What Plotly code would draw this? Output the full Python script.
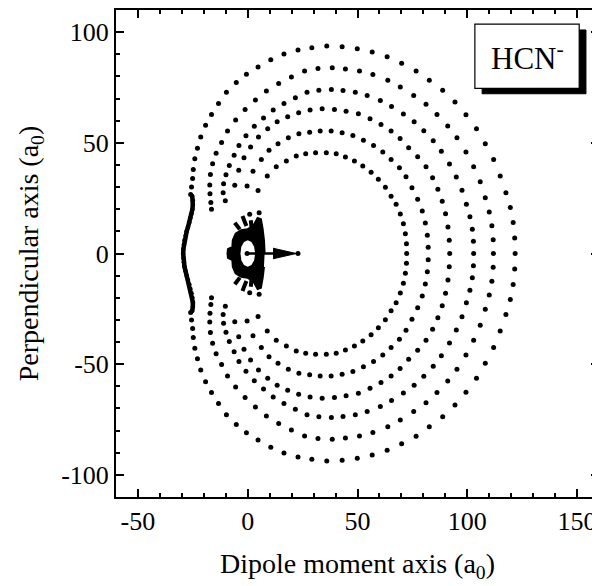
import plotly.graph_objects as go

# ---------------- data (upper halves, y >= 0; figure is symmetric about y = 0) -------------
arc1_x = [-26.0, -25.6, -25.1, -24.8, -24.1, -22.9, -21.4, -19.2, -16.5, -13.3, -9.7, -5.2, -0.6, 4.7,
          10.5, 16.5, 22.9, 29.2, 36.0, 43.0, 49.9, 56.7, 63.5, 70.1, 76.7, 82.7, 88.8, 94.4, 99.4,
          104.2, 108.2, 112.0, 115.0, 117.6, 119.6, 120.9, 121.6, 121.8]
arc1_y = [26.7, 30.0, 33.9, 38.0, 42.8, 47.5, 52.6, 57.9, 62.8, 67.8, 72.8, 77.3, 81.0, 84.3,
          87.5, 90.1, 91.9, 92.9, 93.7, 93.4, 92.5, 91.0, 88.9, 86.0, 82.5, 78.3, 73.7, 68.4, 62.7,
          56.3, 49.6, 42.5, 35.0, 27.5, 20.8, 14.0, 7.0, 0.0]

arc2_x = [-16.5, -16.8, -17.2, -17.3, -17.0, -16.0, -14.4, -11.9, -9.2, -5.5, -1.2, 3.5, 8.5, 14.1,
          19.9, 25.9, 32.0, 38.5, 44.5, 50.9, 57.0, 63.8, 69.5, 75.6, 81.2, 86.2, 91.1, 95.3, 99.4,
          102.9, 105.9, 108.2, 110.0, 111.2, 111.8, 111.9]
arc2_y = [20.0, 23.0, 27.0, 31.0, 35.7, 40.5, 45.3, 50.2, 55.3, 60.3, 65.1, 69.3, 73.4, 76.8,
          79.7, 82.4, 83.6, 83.9, 83.4, 82.4, 80.9, 78.3, 75.2, 71.4, 67.4, 62.8, 57.6, 52.3, 45.8,
          39.2, 32.4, 25.2, 18.8, 12.5, 6.2, 0.0]

arc3_x = [-10.2, -11.2, -11.0, -9.9, -8.4, -6.2, -4.0, -0.8, 3.0, 7.2, 11.6, 16.5, 21.7, 27.0,
          32.4, 38.1, 43.4, 49.0, 54.4, 60.4, 65.5, 70.9, 75.8, 80.2, 84.5, 88.2, 91.9, 95.0, 97.6,
          99.6, 101.2, 102.3, 102.8, 102.9]
arc3_y = [23.8, 27.5, 31.5, 35.6, 39.8, 44.4, 48.8, 53.2, 57.5, 61.2, 64.8, 67.8, 70.4, 72.8,
          73.8, 74.1, 73.6, 72.8, 71.4, 69.1, 66.4, 63.0, 59.5, 55.5, 50.9, 46.2, 40.4, 34.6, 28.6,
          22.3, 16.6, 11.0, 5.5, 0.0]

arc4_x = [-5.9, -4.1, -1.7, 1.3, 4.9, 9.1, 13.4, 18.2, 23.2, 28.4, 33.9, 39.5, 44.8, 50.4, 55.7,
          60.7, 65.3, 69.4, 73.3, 77.4, 81.2, 84.2, 86.6, 88.6, 90.1, 91.2, 91.8, 92.0]
arc4_y = [30.8, 37.6, 43.3, 48.1, 52.6, 56.3, 59.5, 61.8, 63.6, 64.8, 65.4, 65.1, 64.3, 63.1, 60.9,
          58.3, 55.3, 51.9, 47.8, 43.7, 39.2, 34.2, 29.0, 23.6, 18.0, 12.0, 6.0, 0.0]

arc5_x = [-0.3, 2.4, 6.2, 9.7, 13.8, 18.5, 23.3, 28.2, 33.0, 38.0, 43.0, 47.9, 52.7, 57.3, 61.5,
          65.3, 69.1, 72.1, 74.8, 77.4, 79.5, 80.9, 81.8, 82.2]
arc5_y = [30.5, 37.2, 42.5, 46.6, 49.6, 52.3, 54.1, 54.8, 55.3, 55.3, 54.5, 53.3, 51.2, 48.8, 45.8,
          42.5, 38.7, 34.7, 29.7, 24.5, 19.2, 13.8, 8.3, 2.8]

arc6_x = [4.7, 8.9, 13.0, 17.6, 22.1, 26.4, 30.9, 35.8, 40.3, 44.5, 48.6, 52.4, 56.2, 59.5, 62.7,
          65.3, 67.6, 69.5, 70.9, 71.8, 72.3, 72.4]
arc6_y = [28.5, 35.0, 39.2, 41.8, 44.0, 45.1, 45.5, 45.5, 45.1, 43.6, 41.8, 39.5, 36.7, 33.5, 29.9,
          25.9, 22.2, 17.9, 13.4, 8.9, 4.4, 0.0]

# dense left-hand curve
wave_x = [-25.3, -25.0, -25.0, -25.2, -25.6, -26.1, -26.6, -27.2, -27.8, -28.3, -28.8, -29.1, -29.3, -29.4]
wave_y = [26.0, 24.0, 22.0, 20.0, 18.0, 16.0, 14.0, 12.0, 10.0, 8.0, 6.0, 4.0, 2.0, 0.0]

# central blob outline (upper half, from right edge round to left edge)
blob_x = [7.7, 7.4, 6.8, 6.0, 4.5, 2.5, 0.0, -3.0, -5.5, -6.8, -7.0, -9.0, -9.2]
blob_y = [0.0, 6.0, 11.0, 15.5, 16.0, 12.5, 11.0, 10.5, 9.0, 6.0, 3.0, 2.0, 0.0]
hole_x = [3.4, 2.9, 1.7, 0.0, -1.7, -2.9, -3.3]
hole_y = [0.0, 3.0, 5.2, 6.0, 5.2, 3.0, 0.0]
fing_x0 = [-5.9, -2.4, 1.4, 4.7]
fing_y0 = [13.9, 16.9, 15.0, 15.0]
fing_x1 = [-3.6, -0.6, 1.7, 5.3]
fing_y1 = [10.9, 12.4, 12.0, 11.5]
blobdot_x = [0.9, 5.2, -0.3]
blobdot_y = [17.7, 18.4, 0.0]

# dipole arrow
shaft_x = [0.0, 12.0]
shaft_y = [0.0, 0.0]
head_x = [11.5, 22.1, 11.5]
head_y = [2.4, 0.0, -2.4]
tip_x = [22.9]
tip_y = [0.0]

x_ticks = [-50, 0, 50, 100, 150]
y_ticks = [-100, -50, 0, 50, 100]
label_text = "HCN<sup>-</sup>"
x_title = "Dipole moment axis (a<sub>0</sub>)"
y_title = "Perpendicular axis (a<sub>0</sub>)"


def mirror(xs, ys):
    """Full curve from an upper half (symmetric about y=0)."""
    if ys[-1] == 0:
        return xs + xs[-2::-1], ys + [-y for y in ys[-2::-1]]
    return xs + xs[::-1], ys + [-y for y in ys[::-1]]


def mirror_closed(xs, ys):
    return xs + xs[-2:0:-1], ys + [-y for y in ys[-2:0:-1]]


FONT = "Liberation Serif, Times New Roman, serif"
fig = go.Figure()

dot = dict(color="black", size=5)
for ax, ay in [(arc1_x, arc1_y), (arc2_x, arc2_y), (arc3_x, arc3_y),
               (arc4_x, arc4_y), (arc5_x, arc5_y), (arc6_x, arc6_y)]:
    fx, fy = mirror(ax, ay)
    fig.add_trace(go.Scatter(x=fx, y=fy, mode="markers", marker=dot,
                             showlegend=False, hoverinfo="skip"))

wx, wy = mirror(wave_x, wave_y)
fig.add_trace(go.Scatter(x=wx, y=wy, mode="lines+markers", line=dict(color="black", width=4.5),
                         marker=dict(color="black", size=4.5), showlegend=False, hoverinfo="skip"))

bx, by = mirror_closed(blob_x, blob_y)
fig.add_trace(go.Scatter(x=bx, y=by, mode="lines", fill="toself", fillcolor="black",
                         line=dict(color="black", width=2), showlegend=False, hoverinfo="skip"))
hx, hy = mirror_closed(hole_x, hole_y)
fig.add_trace(go.Scatter(x=hx, y=hy, mode="lines", fill="toself", fillcolor="white",
                         line=dict(color="white", width=0), showlegend=False, hoverinfo="skip"))

fx, fy = [], []
for x0, y0, x1, y1 in zip(fing_x0, fing_y0, fing_x1, fing_y1):
    fx += [x0, x1, None, x0, x1, None]
    fy += [y0, y1, None, -y0, -y1, None]
fig.add_trace(go.Scatter(x=fx, y=fy, mode="lines", line=dict(color="black", width=4),
                         showlegend=False, hoverinfo="skip"))
ddx, ddy = mirror(blobdot_x, blobdot_y)
fig.add_trace(go.Scatter(x=ddx, y=ddy, mode="markers", marker=dot, showlegend=False, hoverinfo="skip"))

fig.add_trace(go.Scatter(x=shaft_x, y=shaft_y, mode="lines", line=dict(color="black", width=2.5),
                         showlegend=False, hoverinfo="skip"))
fig.add_trace(go.Scatter(x=head_x, y=head_y, mode="lines", fill="toself", fillcolor="black",
                         line=dict(color="black", width=1), showlegend=False, hoverinfo="skip"))
fig.add_trace(go.Scatter(x=tip_x, y=tip_y, mode="markers", marker=dot, showlegend=False, hoverinfo="skip"))

axis_common = dict(
    showgrid=False, zeroline=False, showline=True, linecolor="black", linewidth=2,
    mirror="ticks", ticks="inside", ticklen=8, tickwidth=2, tickcolor="black", automargin=False,
    tickfont=dict(family=FONT, size=26, color="black"),
    minor=dict(ticks="inside", ticklen=4, tickwidth=1.5, tickcolor="black", dtick=10),
)
fig.update_xaxes(range=[-60, 160], tickvals=x_ticks, ticktext=[str(v) for v in x_ticks],
                 title=dict(text=x_title, font=dict(family=FONT, size=28, color="black"), standoff=18),
                 **axis_common)
fig.update_yaxes(range=[-110, 110], tickvals=y_ticks, ticktext=[str(v) for v in y_ticks],
                 title=dict(text=y_title, font=dict(family=FONT, size=28, color="black"), standoff=14),
                 **axis_common)

# label box with drop shadow
fig.add_shape(type="rect", xref="paper", yref="paper", x0=0.758, x1=0.973, y0=0.828, y1=0.959,
              fillcolor="black", line=dict(color="black", width=1), layer="above")
fig.add_shape(type="rect", xref="paper", yref="paper", x0=0.743, x1=0.959, y0=0.839, y1=0.971,
              fillcolor="white", line=dict(color="black", width=1.2), layer="above")
fig.add_annotation(xref="paper", yref="paper", x=0.851, y=0.905, text=label_text, showarrow=False,
                   font=dict(family=FONT, size=31, color="black"), xanchor="center", yanchor="middle")

# the page body adds an 8 px offset, so the figure is 8 px smaller and margins compensate
fig.update_layout(width=592, height=578, margin=dict(l=108, r=1, t=2, b=89),
                  paper_bgcolor="white", plot_bgcolor="white")
fig.write_html("out.html")
